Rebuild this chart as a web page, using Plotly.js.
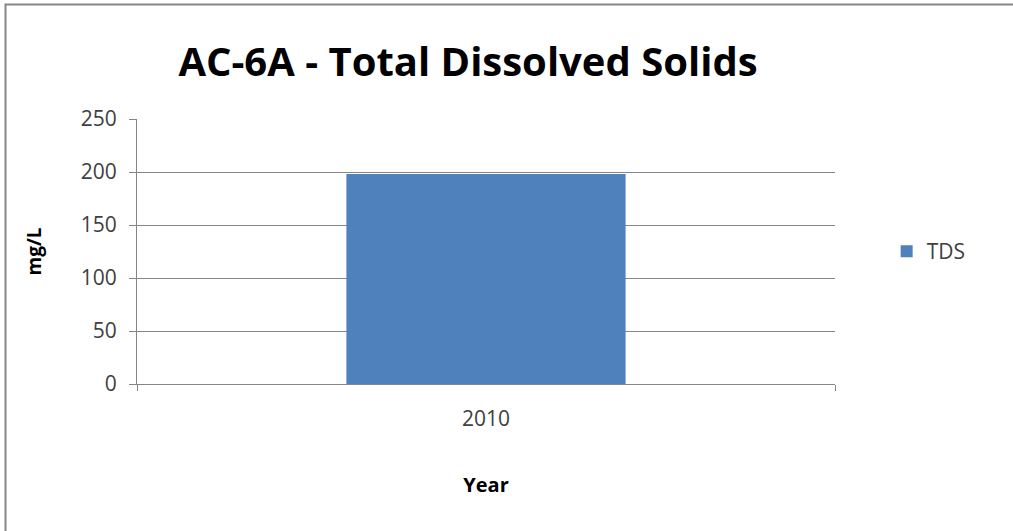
<!DOCTYPE html>
<html>
<head>
<meta charset="utf-8">
<script src="https://cdn.plot.ly/plotly-3.0.1.min.js"></script>
<style>html,body{margin:0;padding:0;background:#fff;}#chart{width:1013px;height:531px;}</style>
</head>
<body>
<div id="chart"></div>
<script>
const categories = ["2010"];
const tdsValues = [198];
const seriesName = "TDS";
const yTickValues = [0, 50, 100, 150, 200, 250];

const L = 137, R = 178, T = 119, B = 147, W = 1013, H = 531;
const pw = W - L - R, ph = H - T - B;
const bx = (5.5 - L) / pw, by = (H - B - 4.5) / ph;

const trace = {
  type: "bar",
  x: categories,
  y: tdsValues,
  name: seriesName,
  marker: {color: "#4F81BD", line: {color: "#4F81BD", width: 0}},
  showlegend: true
};

const layout = {
  width: W, height: H,
  margin: {l: L, r: R, t: T, b: B, pad: 0},
  paper_bgcolor: "#ffffff",
  plot_bgcolor: "#ffffff",
  font: {family: "Open Sans, sans-serif", color: "#404040"},
  title: {
    text: "<b>AC-6A - Total Dissolved Solids</b>",
    font: {family: "Open Sans, sans-serif", size: 40, color: "#000000"},
    x: 468 / W, xanchor: "center",
    y: 1 - 62 / H, yanchor: "middle"
  },
  bargap: 0.6,
  showlegend: true,
  legend: {
    x: 1.074, xanchor: "left", y: 0.5, yanchor: "middle",
    font: {size: 21, color: "#404040"},
    itemwidth: 30, bgcolor: "rgba(0,0,0,0)"
  },
  xaxis: {
    type: "category",
    tickson: "boundaries",
    ticks: "outside", ticklen: 6, tickcolor: "#868686",
    showline: true, linecolor: "#868686", linewidth: 1,
    showgrid: false,
    ticklabelstandoff: 16,
    tickfont: {size: 21, color: "#404040"},
    title: {text: "<b>Year</b>", font: {size: 20, color: "#000000"}, standoff: 46}
  },
  yaxis: {
    range: [0, 250],
    tickvals: yTickValues,
    ticks: "outside", ticklen: 7, tickcolor: "#868686",
    showline: true, linecolor: "#868686", linewidth: 1,
    showgrid: true, gridcolor: "#868686", gridwidth: 1,
    zeroline: false,
    ticklabelstandoff: 8,
    tickfont: {size: 21, color: "#404040"},
    title: {text: "<b>mg/L</b>", font: {size: 19, color: "#000000"}, standoff: 34}
  },
  shapes: [
    {type: "path", xref: "paper", yref: "paper",
     path: `M ${bx} -1 L ${bx} ${by} L 1.5 ${by}`,
     line: {color: "#878787", width: 2}}
  ]
};

Plotly.newPlot("chart", [trace], layout, {displayModeBar: false, staticPlot: true});
</script>
</body>
</html>
